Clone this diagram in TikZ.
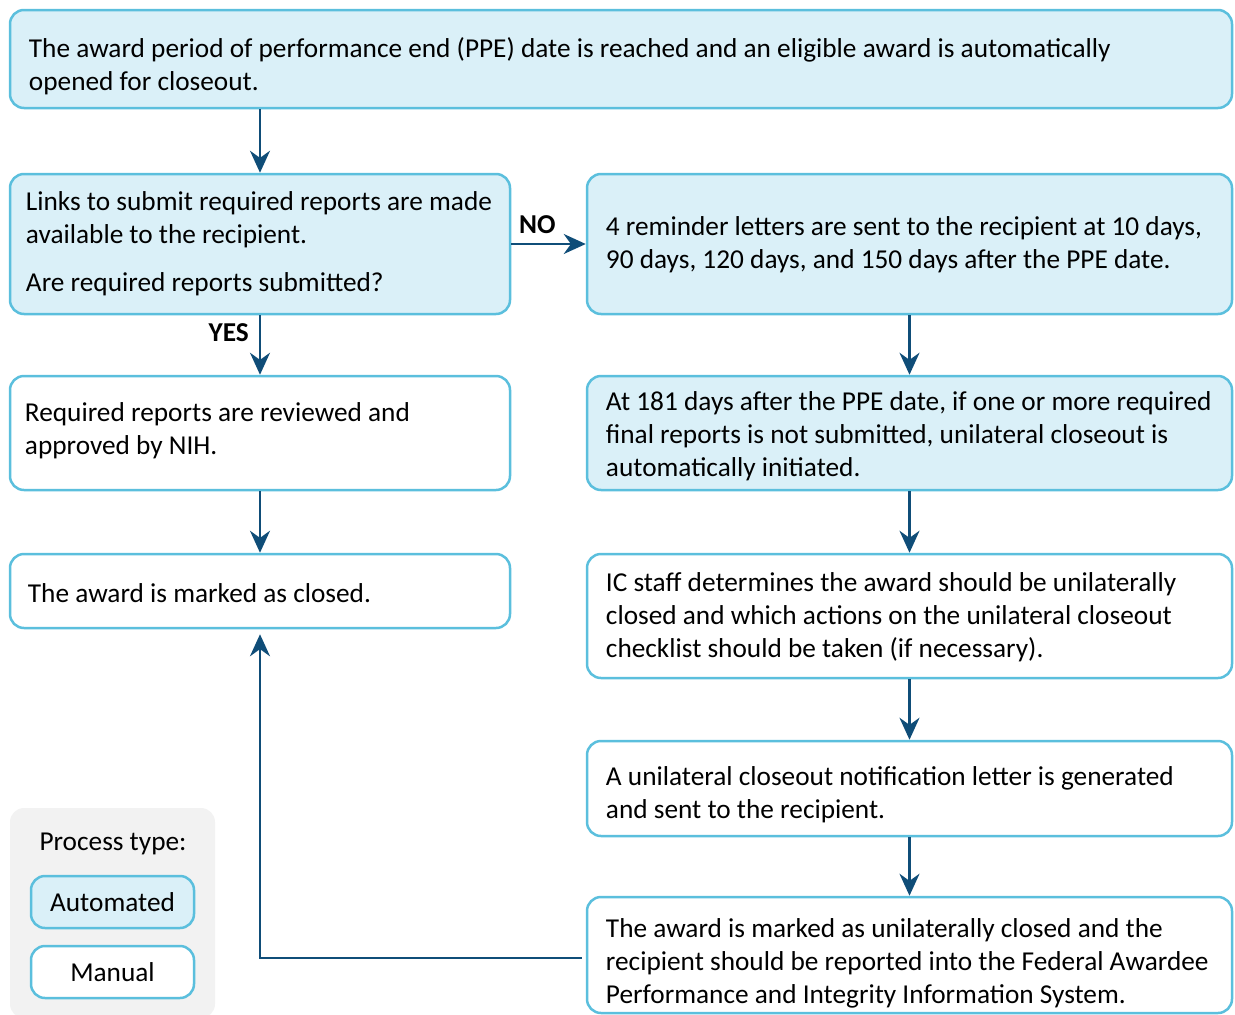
\documentclass[tikz,border=0pt]{standalone}
\usepackage{fontspec}
\setmainfont{Carlito}
\usetikzlibrary{arrows.meta,calc}
\definecolor{autoc}{HTML}{DAF0F8}
\definecolor{bordc}{HTML}{5BBFDD}
\definecolor{arrc}{HTML}{0F4D78}
\definecolor{legc}{HTML}{F2F2F2}
\newcommand{\fsz}{\fontsize{27.3pt}{33pt}\selectfont}
\tikzset{
  box/.style={draw=bordc, line width=2.5pt, rounded corners=14pt, align=center,
    inner sep=0pt, font=\fsz, anchor=center},
  autobox/.style={box, fill=autoc},
  manbox/.style={box, fill=white},
  txt/.style={align=left, inner sep=0pt, font=\fsz, anchor=west},
  arr/.style={draw=arrc, line width=2.5pt, -{Stealth[length=22pt,width=20pt]}},
  lbl/.style={font=\fsz\bfseries, inner sep=2pt}
}
\begin{document}
\begin{tikzpicture}[x=1pt,y=-1pt]
\useasboundingbox (0,0) rectangle (1235,1015);
% boxes, left column
\node[autobox, minimum width=1222pt, minimum height=98pt] (b1) at (621,59) {};
\node[autobox, minimum width=500pt, minimum height=140pt] (b2) at (260,244) {};
\node[manbox, minimum width=500pt, minimum height=114pt] (b4) at (260,433) {};
\node[manbox, minimum width=500pt, minimum height=74pt] (b5) at (260,591) {};
% boxes, right column
\node[autobox, minimum width=645pt, minimum height=140pt] (b3) at (909.5,244) {};
\node[autobox, minimum width=645pt, minimum height=114pt] (b6) at (909.5,433) {};
\node[manbox, minimum width=645pt, minimum height=124pt] (b7) at (909.5,616) {};
\node[manbox, minimum width=645pt, minimum height=95pt] (b8) at (909.5,788.5) {};
\node[manbox, minimum width=645pt, minimum height=116pt] (b9) at (909.5,955) {};
% texts
\node[txt] (t1) at ($(b1.west)+(20,7)$)
  {The award period of performance end (PPE) date is reached and an eligible award is automatically\\opened for closeout.};
\node[txt] (t2) at ($(b2.west)+(17,0)$)
  {Links to submit required reports are made\\available to the recipient.\\[15pt]Are required reports submitted?};
\node[txt] (t4) at ($(b4.west)+(16,-2)$)
  {Required reports are reviewed and\\approved by NIH.};
\node[txt] (t5) at ($(b5.west)+(19,2)$)
  {The award is marked as closed.};
\node[txt] (t3) at ($(b3.west)+(20,1)$)
  {4 reminder letters are sent to the recipient at 10 days,\\90 days, 120 days, and 150 days after the PPE date.};
\node[txt] (t6) at ($(b6.west)+(20,3)$)
  {At 181 days after the PPE date, if one or more required\\final reports is not submitted, unilateral closeout is\\automatically initiated.};
\node[txt] (t7) at ($(b7.west)+(20,1)$)
  {IC staff determines the award should be unilaterally\\closed and which actions on the unilateral closeout\\checklist should be taken (if necessary).};
\node[txt] (t8) at ($(b8.west)+(20,6)$)
  {A unilateral closeout notification letter is generated\\and sent to the recipient.};
\node[txt] (t9) at ($(b9.west)+(20,8)$)
  {The award is marked as unilaterally closed and the\\recipient should be reported into the Federal Awardee\\Performance and Integrity Information System.};
% legend
\node[fill=legc, rounded corners=14pt, minimum width=205pt, minimum height=210pt, inner sep=0pt] (leg) at (112.5,913) {};
\node[font=\fsz, inner sep=0pt] (legt) at (113,844) {Process type:};
\node[autobox, minimum width=163pt, minimum height=52pt] (la) at (112.5,902) {Automated};
\node[manbox, minimum width=163pt, minimum height=52pt] (lm) at (112.5,972) {Manual};
% connectors
\draw[arr] (b2.north |- b1.south) -- (b2.north);
\draw[arr] (b2.east) -- node[lbl, pos=0.35, above=7pt]{NO} (b3.west);
\draw[arr] (b2.south) -- node[lbl, pos=0.3, left=8pt]{YES} (b4.north);
\draw[arr] (b4.south) -- (b5.north);
\draw[arr] (b3.south) -- (b6.north);
\draw[arr] (b6.south) -- (b7.north);
\draw[arr] (b7.south) -- (b8.north);
\draw[arr] (b8.south) -- (b9.north);
\coordinate (fb) at ($(b5.south)+(0,5)$);
\draw[arr] ($(b9.west)+(-4,3)$) -- ($(b9.west -| b5.south)+(0,3)$) -- (fb);
\end{tikzpicture}
\end{document}
